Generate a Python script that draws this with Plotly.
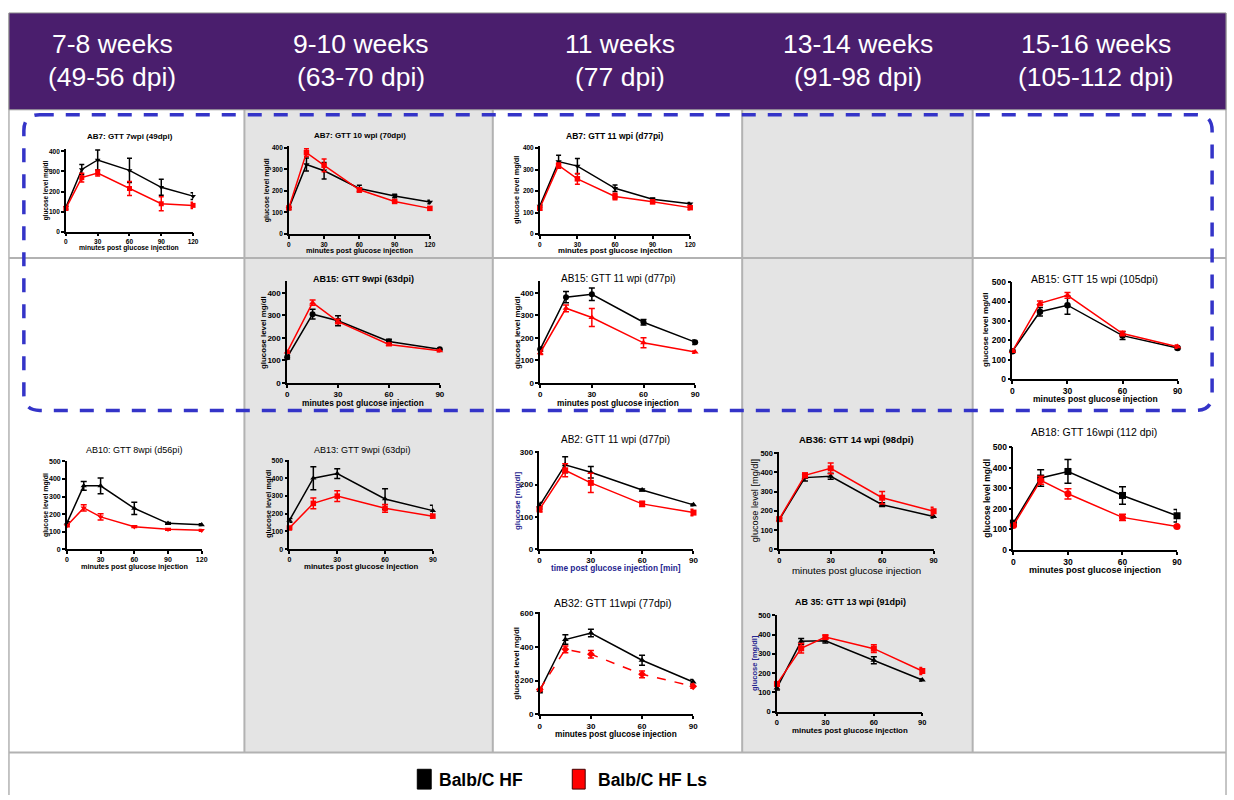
import plotly.graph_objects as go

# ---------------- data (glucose mg/dl, mean and SEM) ----------------
T120 = [0, 15, 30, 60, 90, 120]
T90 = [0, 15, 30, 60, 90]

AB7_7WPI_HF = [121, 310, 357, 305, 221, 177]
AB7_7WPI_HF_SEM = [8, 25, 50, 60, 40, 17]
AB7_7WPI_LS = [116, 269, 292, 215, 139, 131]
AB7_7WPI_LS_SEM = [8, 22, 15, 35, 35, 15]

AB7_10WPI_HF = [119, 322, 293, 211, 176, 148]
AB7_10WPI_HF_SEM = [5, 30, 38, 15, 8, 8]
AB7_10WPI_LS = [121, 377, 318, 205, 151, 119]
AB7_10WPI_LS_SEM = [5, 18, 30, 10, 6, 6]

AB7_11WPI_HF = [130, 337, 316, 213, 162, 141]
AB7_11WPI_HF_SEM = [6, 30, 36, 15, 6, 6]
AB7_11WPI_LS = [120, 319, 257, 175, 150, 123]
AB7_11WPI_LS_SEM = [8, 12, 25, 15, 8, 10]

AB15_9WPI_HF = [114, 305, 276, 184, 149]
AB15_9WPI_HF_SEM = [8, 22, 22, 10, 5]
AB15_9WPI_LS = [137, 356, 272, 171, 143]
AB15_9WPI_LS_SEM = [5, 12, 10, 6, 5]

AB15_11WPI_HF = [149, 380, 393, 269, 181]
AB15_11WPI_HF_SEM = [8, 25, 28, 12, 10]
AB15_11WPI_LS = [134, 331, 290, 178, 137]
AB15_11WPI_LS_SEM = [8, 15, 40, 22, 5]

AB15_15WPI_HF = [143, 347, 381, 224, 160]
AB15_15WPI_HF_SEM = [6, 22, 47, 20, 8]
AB15_15WPI_LS = [143, 391, 432, 235, 167]
AB15_15WPI_LS_SEM = [5, 12, 15, 12, 8]

AB10_8WPI_HF = [148, 361, 361, 233, 147, 139]
AB10_8WPI_HF_SEM = [8, 25, 45, 35, 5, 5]
AB10_8WPI_LS = [133, 235, 184, 128, 113, 107]
AB10_8WPI_LS_SEM = [5, 18, 18, 5, 5, 5]

AB13_9WPI_HF = [162, 400, 426, 283, 217]
AB13_9WPI_HF_SEM = [10, 65, 28, 58, 30]
AB13_9WPI_LS = [119, 258, 299, 230, 186]
AB13_9WPI_LS_SEM = [6, 30, 30, 22, 12]

AB2_11WPI_HF = [134, 261, 238, 183, 137]
AB2_11WPI_HF_SEM = [10, 25, 18, 3, 3]
AB2_11WPI_LS = [123, 244, 205, 140, 113]
AB2_11WPI_LS_SEM = [8, 20, 30, 8, 10]

AB36_14WPI_HF = [154, 372, 379, 232, 171]
AB36_14WPI_HF_SEM = [8, 18, 15, 10, 8]
AB36_14WPI_LS = [157, 384, 420, 268, 198]
AB36_14WPI_LS_SEM = [8, 12, 28, 32, 20]

AB18_16WPI_HF = [130, 350, 382, 265, 166]
AB18_16WPI_HF_SEM = [12, 40, 58, 43, 30]
AB18_16WPI_LS = [119, 339, 273, 158, 114]
AB18_16WPI_LS_SEM = [5, 20, 25, 15, 5]

AB32_11WPI_HF = [140, 443, 482, 320, 191]
AB32_11WPI_HF_SEM = [12, 28, 22, 30, 15]
AB32_11WPI_LS = [146, 385, 356, 237, 166]
AB32_11WPI_LS_SEM = [8, 20, 22, 20, 12]

AB35_13WPI_HF = [123, 365, 368, 267, 164]
AB35_13WPI_HF_SEM = [10, 15, 12, 18, 5]
AB35_13WPI_LS = [144, 329, 387, 327, 211]
AB35_13WPI_LS_SEM = [8, 25, 10, 20, 18]

HEADERS = [("7-8 weeks", "(49-56 dpi)"), ("9-10 weeks", "(63-70 dpi)"),
           ("11 weeks", "(77 dpi)"), ("13-14 weeks", "(91-98 dpi)"),
           ("15-16 weeks", "(105-112 dpi)")]
SERIES_NAMES = ["Balb/C HF", "Balb/C HF Ls"]

# ---------------- layout helpers ----------------
W, H = 1234, 800
FONT = "Arial, Liberation Sans, sans-serif"
NAVY = "#25258f"
XL = "minutes post glucose injection"
YL = "glucose level mg/dl"


def px(x):
    return x / W


def py(y):
    return 1 - y / H


# box = (px of x=0, px of x=xmax, px of y=0, px of y=ytick, ytick value)
PANELS = [
    dict(title="AB7: GTT 7wpi (49dpi)", tb=True, ts=8, tpos=(129, 134), t=T120,
         hf=AB7_7WPI_HF, hfe=AB7_7WPI_HF_SEM, ls=AB7_7WPI_LS, lse=AB7_7WPI_LS_SEM,
         hs="triangle-down", lsym="square", box=(64.3, 192.3, 230.3, 149, 400), ymax=412, dt=100,
         tick=6.5, ms=5, cap=2.5, yl=YL, xl=XL, lsz=6.8, lb=True, lc="black", yo=20, xo=16),
    dict(title="AB7: GTT 10 wpi (70dpi)", tb=True, ts=8, tpos=(360, 133), t=T120,
         hf=AB7_10WPI_HF, hfe=AB7_10WPI_HF_SEM, ls=AB7_10WPI_LS, lse=AB7_10WPI_LS_SEM,
         hs="triangle-down", lsym="square", box=(288.7, 430.7, 232.7, 145.3, 400), ymax=410, dt=100,
         tick=6.5, ms=5.5, cap=2.5, yl=YL, xl=XL, lsz=7.3, lb=True, lc="black", yo=22.5, xo=16.5),
    dict(title="AB7: GTT 11 wpi (d77pi)", tb=True, ts=8.5, tpos=(616.5, 133), t=T120,
         hf=AB7_11WPI_HF, hfe=AB7_11WPI_HF_SEM, ls=AB7_11WPI_LS, lse=AB7_11WPI_LS_SEM,
         hs="triangle-down", lsym="square", box=(541.3, 692.7, 232.7, 145.7, 400), ymax=410, dt=100,
         tick=6.5, ms=5.5, cap=2.5, yl=YL, xl=XL, lsz=7.8, lb=True, lc="black", yo=23, xo=16.5),
    dict(title="AB15: GTT 9wpi (63dpi)", tb=True, ts=9, tpos=(364, 277.7), t=T90,
         hf=AB15_9WPI_HF, hfe=AB15_9WPI_HF_SEM, ls=AB15_9WPI_LS, lse=AB15_9WPI_LS_SEM,
         hs="circle", lsym="triangle-up", box=(287, 440.7, 383.3, 292, 400), ymax=450, dt=100,
         tick=8, ms=6, cap=3, yl=YL, xl=XL, lsz=8.3, lb=True, lc="black", yo=24.5, xo=20.5),
    dict(title="AB15: GTT 11 wpi (d77pi)", tb=False, ts=10, tpos=(620.5, 277.7), t=T90,
         hf=AB15_11WPI_HF, hfe=AB15_11WPI_HF_SEM, ls=AB15_11WPI_LS, lse=AB15_11WPI_LS_SEM,
         hs="circle", lsym="triangle-up", box=(541.7, 697.7, 383.3, 292, 400), ymax=450, dt=100,
         tick=8, ms=6, cap=3, yl=YL, xl=XL, lsz=8.3, lb=True, lc="black", yo=23.5, xo=20.5),
    dict(title="AB15: GTT 15 wpi (105dpi)", tb=False, ts=10.5, tpos=(1100, 278), t=T90,
         hf=AB15_15WPI_HF, hfe=AB15_15WPI_HF_SEM, ls=AB15_15WPI_LS, lse=AB15_15WPI_LS_SEM,
         hs="circle", lsym="triangle-up", box=(1017, 1183.3, 379.3, 281.3, 500), ymax=503, dt=100,
         tick=8.5, ms=6.5, cap=3, yl=YL, xl=XL, lsz=8.5, lb=True, lc="black", yo=27, xo=19.8),
    dict(title="AB10: GTT 8wpi (d56pi)", tb=False, ts=9, tpos=(133, 450.7), t=T120,
         hf=AB10_8WPI_HF, hfe=AB10_8WPI_HF_SEM, ls=AB10_8WPI_LS, lse=AB10_8WPI_LS_SEM,
         hs="triangle-up", lsym="triangle-down", box=(65.3, 201, 551.3, 462.7, 500), ymax=503, dt=100,
         tick=7, ms=5.5, cap=3, yl=YL, xl=XL, lsz=7.3, lb=True, lc="black", yo=21, xo=17.7),
    dict(title="AB13: GTT 9wpi (63dpi)", tb=False, ts=9, tpos=(362, 450.7), t=T90,
         hf=AB13_9WPI_HF, hfe=AB13_9WPI_HF_SEM, ls=AB13_9WPI_LS, lse=AB13_9WPI_LS_SEM,
         hs="triangle-up", lsym="square", box=(289.3, 433.7, 551.3, 461.7, 500), ymax=503, dt=100,
         tick=7, ms=5.5, cap=3, yl=YL, xl=XL, lsz=7.8, lb=True, lc="black", yo=21, xo=17.5),
    dict(title="AB2: GTT 11 wpi (d77pi)", tb=False, ts=10, tpos=(618, 440), t=T90,
         hf=AB2_11WPI_HF, hfe=AB2_11WPI_HF_SEM, ls=AB2_11WPI_LS, lse=AB2_11WPI_LS_SEM,
         hs="triangle-up", lsym="square", box=(541, 696, 551.3, 453.3, 300), ymax=303, dt=100,
         tick=8, ms=6, cap=3, yl="glucose [mg/dl]", xl="time post glucose injection [min]",
         lsz=8.3, lb=True, lc=NAVY, yo=22.7, xo=19.5),
    dict(title="AB36: GTT 14 wpi (98dpi)", tb=True, ts=9.5, tpos=(860.5, 440), t=T90,
         hf=AB36_14WPI_HF, hfe=AB36_14WPI_HF_SEM, ls=AB36_14WPI_LS, lse=AB36_14WPI_LS_SEM,
         hs="triangle-up", lsym="square", box=(782.3, 937.7, 551.7, 454, 500), ymax=503, dt=100,
         tick=7.5, ms=6, cap=3, yl="glucose level [mg/dl]", xl=XL, lsz=9.7, lb=False, lc="black",
         yo=24, xo=21),
    dict(title="AB18: GTT 16wpi (112 dpi)", tb=False, ts=10.5, tpos=(1099, 433), t=T90,
         hf=AB18_16WPI_HF, hfe=AB18_16WPI_HF_SEM, ls=AB18_16WPI_LS, lse=AB18_16WPI_LS_SEM,
         hs="square", lsym="circle", box=(1018, 1182.7, 552, 448.3, 500), ymax=503, dt=100,
         tick=8.5, ms=7, cap=3.5, yl=YL, xl=XL, lsz=9, lb=True, lc="black", yo=26, xo=20.5),
    dict(title="AB32: GTT 11wpi (77dpi)", tb=False, ts=10.5, tpos=(614.5, 606), t=T90,
         hf=AB32_11WPI_HF, hfe=AB32_11WPI_HF_SEM, ls=AB32_11WPI_LS, lse=AB32_11WPI_LS_SEM,
         hs="triangle-up", lsym="diamond", ldash="dash", box=(541.3, 695.7, 718.3, 616, 600),
         ymax=604, dt=200, tick=8, ms=6, cap=3, yl=YL, xl=XL, lsz=8.3, lb=True, lc="black",
         yo=23.6, xo=20),
    dict(title="AB 35: GTT 13 wpi (91dpi)", tb=True, ts=9, tpos=(854, 605), t=T90,
         hf=AB35_13WPI_HF, hfe=AB35_13WPI_HF_SEM, ls=AB35_13WPI_LS, lse=AB35_13WPI_LS_SEM,
         hs="triangle-up", lsym="square", box=(780, 926.3, 715.7, 618.3, 500), ymax=503, dt=100,
         tick=7.5, ms=6, cap=3, yl="glucose [mg/dl]", xl=XL, lsz=7.9, lb=True, lc=NAVY,
         ylc=NAVY, xlc="black", yo=23.3, xo=19),
]

fig = go.Figure()
annotations = []
shapes = []

# ---------------- background table ----------------
GRAY_BG = "#e4e4e4"
GRID = "#b2b2b2"
for (a, b) in [(244, 494), (745, 977)]:
    shapes.append(dict(type="rect", xref="paper", yref="paper", x0=px(a), x1=px(b),
                       y0=py(757), y1=py(107), fillcolor=GRAY_BG, line=dict(width=0), layer="below"))
for xv in [244, 494, 745, 977]:
    shapes.append(dict(type="line", xref="paper", yref="paper", x0=px(xv), x1=px(xv),
                       y0=py(757), y1=py(107), line=dict(color=GRID, width=2), layer="below"))
for yv in [257, 757]:
    shapes.append(dict(type="line", xref="paper", yref="paper", x0=px(7), x1=px(1232),
                       y0=py(yv), y1=py(yv), line=dict(color=GRID, width=2), layer="below"))
for xv in [7, 1232]:
    shapes.append(dict(type="line", xref="paper", yref="paper", x0=px(xv), x1=px(xv),
                       y0=py(800), y1=py(9), line=dict(color=GRID, width=1.5), layer="below"))
# header band
shapes.append(dict(type="rect", xref="paper", yref="paper", x0=px(7), x1=px(1232),
                   y0=py(107), y1=py(9), fillcolor="#4a1e6d", line=dict(color="#9a9a9a", width=1),
                   layer="below"))
HEADER_X = [111, 361, 622, 862, 1101]
for cx, (l1, l2) in zip(HEADER_X, HEADERS):
    for txt, yy in [(l1, 40), (l2, 74)]:
        annotations.append(dict(text=txt, x=px(cx), y=py(yy), xref="paper", yref="paper",
                                showarrow=False, xanchor="center", yanchor="middle",
                                font=dict(family=FONT, size=26.5, color="white")))

# dashed rounded frame
L, R, T, B, r = 22, 1218, 112, 411, 16
path = (f"M {px(L + r)},{py(T)} L {px(R - r)},{py(T)} Q {px(R)},{py(T)} {px(R)},{py(T + r)} "
        f"L {px(R)},{py(B - r)} Q {px(R)},{py(B)} {px(R - r)},{py(B)} "
        f"L {px(L + r)},{py(B)} Q {px(L)},{py(B)} {px(L)},{py(B - r)} "
        f"L {px(L)},{py(T + r)} Q {px(L)},{py(T)} {px(L + r)},{py(T)} Z")
shapes.append(dict(type="path", xref="paper", yref="paper", path=path,
                   line=dict(color="#3434c8", width=3.5, dash="14px,12px"), layer="above"))

# legend
for (x0, x1, col, name, tx) in [(418, 432, "black", SERIES_NAMES[0], 438),
                                (574, 587, "#ff0000", SERIES_NAMES[1], 598)]:
    shapes.append(dict(type="rect", xref="paper", yref="paper", x0=px(x0), x1=px(x1),
                       y0=py(794), y1=py(774), fillcolor=col,
                       line=dict(color="#400000" if col != "black" else "black", width=1)))
    annotations.append(dict(text=f"<b>{name}</b>", x=px(tx), y=py(785), xref="paper", yref="paper",
                            showarrow=False, xanchor="left", yanchor="middle",
                            font=dict(family=FONT, size=17.5, color="black")))

# ---------------- panels ----------------
for i, p in enumerate(PANELS, start=1):
    sfx = "" if i == 1 else str(i)
    xa, ya = f"x{sfx}", f"y{sfx}"
    x0, x1, yb, yt, ytick = p["box"]
    top_px = yb - p["ymax"] * (yb - yt) / ytick
    xmax = p["t"][-1]

    for vals, errs, col, sym, dash, nm in [
        (p["hf"], p["hfe"], "black", p["hs"], "solid", SERIES_NAMES[0]),
        (p["ls"], p["lse"], "#ff0000", p["lsym"], p.get("ldash", "solid"), SERIES_NAMES[1]),
    ]:
        fig.add_trace(go.Scatter(
            x=p["t"], y=vals, mode="lines+markers", name=nm, showlegend=False,
            xaxis=xa, yaxis=ya, cliponaxis=False,
            line=dict(color=col, width=1.5, dash=dash),
            marker=dict(symbol=sym, size=p["ms"], color=col, line=dict(width=0)),
            error_y=dict(type="data", array=errs, visible=True, color=col,
                         thickness=1.5, width=p["cap"]),
        ))

    common = dict(showline=True, linecolor="black", linewidth=1.5, ticks="outside",
                  ticklen=3, tickwidth=1.5, tickcolor="black", showgrid=False, zeroline=False,
                  fixedrange=True,
                  tickfont=dict(family=FONT, size=p["tick"], color="black", weight="bold"))
    fig.update_layout(**{
        f"xaxis{sfx}": dict(domain=[px(x0), px(x1)], range=[0, xmax], anchor=ya,
                            tickmode="array", tickvals=[v for v in [0, 30, 60, 90, 120] if v <= xmax],
                            **common),
        f"yaxis{sfx}": dict(domain=[py(yb), py(top_px)], range=[0, p["ymax"]], anchor=xa,
                            tickmode="linear", tick0=0, dtick=p["dt"], **common),
    })

    # title
    tt = f"<b>{p['title']}</b>" if p["tb"] else p["title"]
    annotations.append(dict(text=tt, x=px(p["tpos"][0]), y=py(p["tpos"][1]), xref="paper",
                            yref="paper", showarrow=False, xanchor="center", yanchor="middle",
                            font=dict(family=FONT, size=p["ts"], color="black")))

    # axis titles
    def fmt(s):
        return f"<b>{s}</b>" if p["lb"] else s

    annotations.append(dict(text=fmt(p["xl"]), x=px((x0 + x1) / 2), y=py(yb + p["xo"]),
                            xref="paper", yref="paper", showarrow=False, xanchor="center",
                            yanchor="middle",
                            font=dict(family=FONT, size=p["lsz"], color=p.get("xlc", p["lc"]))))
    annotations.append(dict(text=fmt(p["yl"]), x=px(x0 - p["yo"]), y=py((yb + top_px) / 2),
                            xref="paper", yref="paper", showarrow=False, xanchor="center",
                            yanchor="middle", textangle=-90,
                            font=dict(family=FONT, size=p["lsz"] * 0.95,
                                      color=p.get("ylc", p["lc"]))))

fig.update_layout(width=W, height=H, margin=dict(l=0, r=0, t=0, b=0),
                  paper_bgcolor="white", plot_bgcolor="rgba(0,0,0,0)",
                  showlegend=False, shapes=shapes, annotations=annotations,
                  font=dict(family=FONT))
fig.write_html("out.html", config={"displayModeBar": False},
               post_script="document.body.style.margin='0';document.body.style.overflow='hidden';")
